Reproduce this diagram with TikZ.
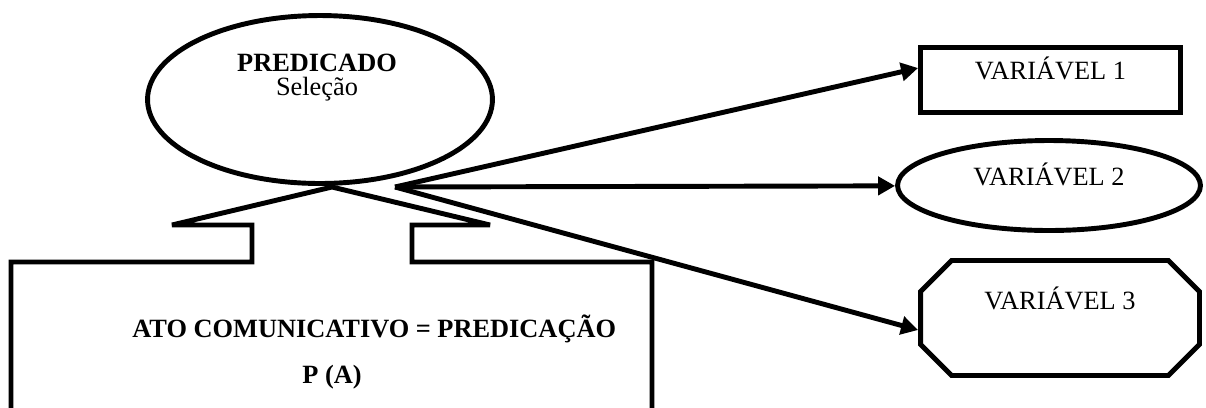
\documentclass[tikz,border=0pt]{standalone}
\usepackage{fontspec}
\setmainfont{Liberation Serif}
\usetikzlibrary{arrows.meta,shapes.geometric,shapes.misc}

\begin{document}
\begin{tikzpicture}[
  x=0.02cm,
  y=-0.02cm,
  outline/.style={draw=black, line width=2.8pt},
  txt/.style={font=\fontsize{15pt}{18pt}\selectfont, inner sep=0pt},
  boldtxt/.style={font=\fontsize{15pt}{18pt}\selectfont\bfseries, inner sep=0pt},
  var/.style={outline, txt, text height=9.9pt, text depth=10.2pt},
  link/.style={-{Triangle[length=0.34cm,width=0.36cm]}, line width=2.8pt},
  callout/.style={line width=2.8pt, miter limit=2}
]
\useasboundingbox (0,0) rectangle (1206,407);

% predicate and the act box below it
\node[outline, ellipse, minimum width=6.9cm, minimum height=3.36cm] (pred) at (320,99.5) {};
\node[txt, align=center, font=\fontsize{15pt}{13.6pt}\selectfont] (predtxt) at (317,78) {\textbf{PREDICADO}\\Seleção};

\draw[callout] (11,420) -- (11,262) -- (252,262) -- (252,225) -- (172,225) -- (332,187)
  -- (490,225) -- (412,225) -- (412,262) -- (652,262) -- (652,420);

\node[boldtxt, anchor=base west] (acttxt) at (132,337) {ATO COMUNICATIVO = PREDICAÇÃO};
\node[boldtxt, anchor=base west] (argtxt) at (302,383) {P (A)};

% variables
\node[var, rectangle, minimum width=5.2cm, minimum height=1.3cm] (var1) at (1050.5,80) {VARIÁVEL 1};
\node[var, ellipse, minimum width=6.06cm, minimum height=1.8cm] (var2) at (1049,185.5) {VARIÁVEL 2};
\node[var, chamfered rectangle, chamfered rectangle xsep=0.74cm, minimum width=5.58cm,
  minimum height=2.3cm, text depth=19.4pt] (var3) at (1060,318) {VARIÁVEL 3};

\coordinate (hub) at (395,187);
\draw[link] (hub) -- ([yshift=0.24cm]var1.west);
\draw[link] (hub) -- (var2);
\draw[link] (hub) -- ([yshift=-0.24cm]var3.west);
\end{tikzpicture}
\end{document}
